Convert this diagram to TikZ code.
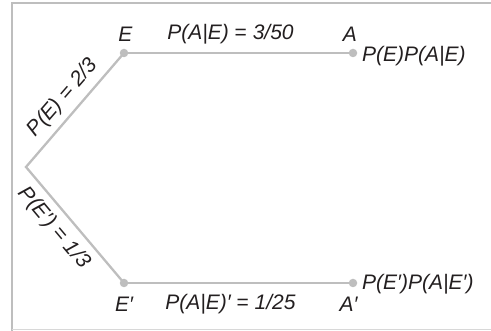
\documentclass[tikz,border=0pt]{standalone}
\usepackage{fontspec}
\setmainfont{Liberation Sans}
\begin{document}
\begin{tikzpicture}[x=1pt,y=-1pt,
  txt/.style={font=\fontsize{21}{24}\selectfont\itshape, text=textgray, inner sep=0pt},
  branch/.style={draw=linegray, line width=2.3pt},
  dot/.style={circle, fill=linegray, inner sep=0pt, minimum size=8.5pt},
  frame/.style={draw=framegray, line width=2pt}]
\definecolor{linegray}{RGB}{190,190,190}
\definecolor{framegray}{RGB}{190,190,190}
\definecolor{textgray}{RGB}{35,31,32}
\useasboundingbox (0,0) rectangle (491,331);
% frame
\draw[frame] (11.5,331) -- (11.5,3.5) -- (491,3.5);
\draw[draw=framegray!60, line width=1.5pt] (11.5,329.5) -- (491,329.5);
% nodes
\coordinate (R) at (26,167);
\node[dot] (E) at (124,53) {};
\node[dot] (Ep) at (124,283) {};
\node[dot] (A) at (353,53) {};
\node[dot] (Ap) at (353,283) {};
% branches
\draw[branch, line join=miter] (E.center) -- (R) -- (Ep.center);
\draw[branch] (E) -- (A);
\draw[branch] (Ep) -- (Ap);
% labels
\node[txt] (lE) at (125.5,34.5) {E};
\node[txt] (lAE) at (230.5,34.5) {P(A|E) \upshape=\itshape{} 3/50};
\node[txt] (lA) at (350,34.5) {A};
\node[txt, anchor=west] (lPA) at (362,56) {P(E)P(A|E)};
\node[txt] (lEp) at (124,304.5) {E′};
\node[txt] (lAEp) at (230.5,304.5) {P(A|E)′ \upshape=\itshape{} 1/25};
\node[txt] (lAp) at (348.5,304.5) {A′};
\node[txt, anchor=west] (lPAp) at (362,284) {P(E′)P(A|E′)};
\node[txt, rotate=49] (lPE) at (63,98) {P(E) \upshape=\itshape{} 2/3};
\node[txt, rotate=-50] (lPEp) at (54,228) {P(E′) \upshape=\itshape{} 1/3};
\end{tikzpicture}
\end{document}
